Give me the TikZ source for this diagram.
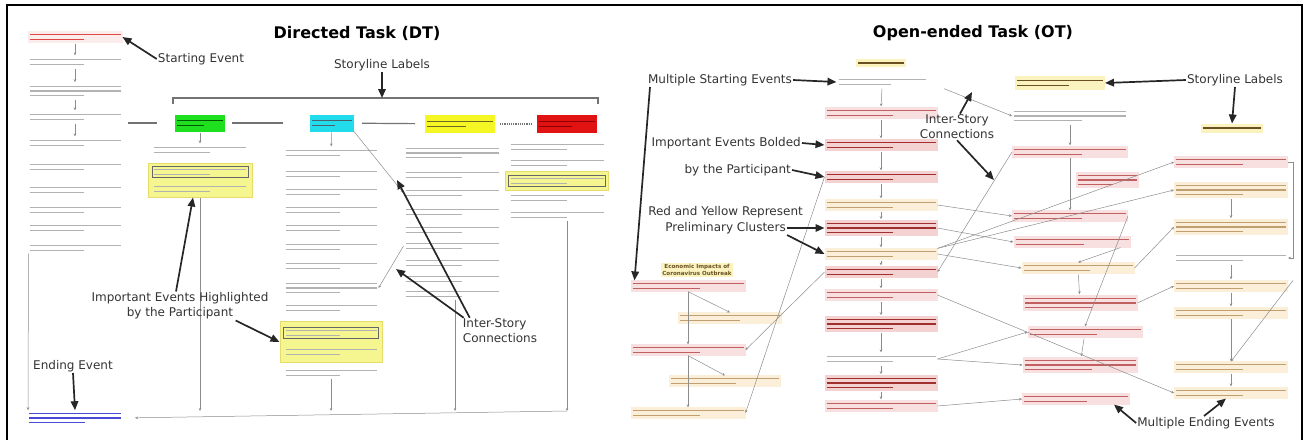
\documentclass[tikz,border=0pt]{standalone}
\usepackage{fontspec}
\setmainfont{DejaVu Sans}
\usetikzlibrary{arrows.meta,calc}

\definecolor{startink}{HTML}{E04848}
\definecolor{startfill}{HTML}{FCEDED}
\definecolor{endink}{HTML}{4A4AD8}
\definecolor{redink}{HTML}{C06060}
\definecolor{redfill}{HTML}{F9E0E0}
\definecolor{boldink}{HTML}{A03030}
\definecolor{boldfill}{HTML}{F5D2D2}
\definecolor{yelink}{HTML}{C0A070}
\definecolor{yelfill}{HTML}{FCEFDA}
\definecolor{labink}{HTML}{6A5020}
\definecolor{labfill}{HTML}{FAF3C0}
\definecolor{labgreen}{HTML}{1EE01E}
\definecolor{labcyan}{HTML}{22DCEC}
\definecolor{labyellow}{HTML}{F6F624}
\definecolor{labred}{HTML}{E01212}
\definecolor{hifill}{HTML}{F6F690}
\definecolor{hiedge}{HTML}{E6DC6A}

\tikzset{
  lbl/.style={font=\fontsize{12}{15}\selectfont, text=black!80, align=center, inner sep=1pt},
  ttl/.style={font=\fontsize{16}{19}\selectfont\bfseries},
  callout/.style={draw=black!85, line width=1.7pt, -{Triangle[length=9pt,width=7.5pt]}},
  conn/.style={draw=black!45, line width=0.5pt, -{Stealth[length=3pt,width=2.6pt]}},
  flow/.style={conn, shorten <=1pt, shorten >=1pt},
  labline/.style={draw=black!55, line width=1.2pt},
  evbox/.style={inner sep=0pt, outer sep=0pt},
  evline/.style={fill=none, line width=1.3pt},
  plainev/.style={color=black!30},
  startev/.style={color=startink, fill=startfill},
  endev/.style={color=endink},
  redev/.style={color=redink, fill=redfill},
  boldev/.style={color=boldink, fill=boldfill},
  yelev/.style={color=yelink, fill=yelfill},
  yellab/.style={color=labink, fill=labfill},
  greenlab/.style={color=green!35!black, fill=labgreen},
  cyanlab/.style={color=cyan!35!black, fill=labcyan},
  yellowlab/.style={color=olive!70!black, fill=labyellow},
  redlab/.style={color=red!55!black, fill=labred},
  hibox/.style={draw=hiedge, fill=hifill, line width=1pt, inner sep=0pt},
  outl/.style={draw=black!60, line width=0.5pt},
}

% one event: blurred text lines in a box
\newcommand{\event}[6][plainev]{%
  \node[evbox, minimum width=#5pt, minimum height={#6*4.4pt+2.4pt}, #1] (#2) at (#3,#4) {};
  \foreach \k in {1,...,#6}{%
    \pgfmathsetmacro{\evfr}{(\k==#6 && #6>1) ? 0.62 : 1}%
    \pgfmathsetmacro{\evdy}{(\k-(#6+1)/2)*4.4}%
    \draw[#1, evline] ($(#2.west)+(2,\evdy)$) -- ($(#2.west)!\evfr!(#2.east)+(-2,\evdy)$);%
  }%
}

\begin{document}
\begin{tikzpicture}[x=1pt,y=-1pt]
\useasboundingbox (0,0) rectangle (1306,445);
\draw[line width=2.6pt] (7,440) -- (7,5) -- (1302,5) -- (1302,440);

% ---------------- Directed Task ----------------
\node[ttl] (dttitle) at (357,33) {Directed Task (DT)};

\event[startev]{s1}{75}{37}{95}{2}
\foreach \i/\y/\n in {1/62/2,2/91/3,3/117/2,4/143/2,5/167/2,6/190/2,7/210/2,8/228/2,9/248/2}
  {\event{l\i}{75}{\y}{95}{\n}}
\event[endev]{e1}{75}{418}{96}{3}

\draw[flow] (s1) -- (l1);
\draw[flow] (l1) -- (l2);
\draw[flow] (l2) -- (l3);
\draw[flow] (l3) -- (l4);
\draw[conn] ([xshift=1pt]l9.south west) -- ([xshift=1pt]e1.north west);

\node[lbl] (startlbl) at (201,59) {Starting Event};
\draw[callout] (startlbl.west) -- (s1.east);
\node[lbl] (endlbl) at (73,366) {Ending Event};
\draw[callout] (endlbl.south) -- (e1.north);

% storyline labels
\coordinate (brl) at (173,98);
\coordinate (brr) at (598,98);
\coordinate (brm) at (382,98);
\draw[labline] ([yshift=-6pt]brl) -- (brl) -- (brr) -- ([yshift=-6pt]brr);
\node[lbl] (storylbl) at (382,65) {Storyline Labels};
\draw[callout] (storylbl) -- (brm);

\event[greenlab,minimum height=17pt]{gl}{200}{123}{50}{2}
\event[cyanlab,minimum height=17pt]{cl}{332}{123}{44}{2}
\event[yellowlab,minimum height=18pt]{yl}{460}{124}{70}{2}
\event[redlab,minimum height=18pt]{rl}{567}{124}{60}{2}
\draw[labline] ([xshift=-47pt]gl.west) -- ([xshift=-18pt]gl.west);
\draw[labline, shorten <=7pt, shorten >=27pt] (gl) -- (cl);
\draw[labline, shorten <=8pt, shorten >=10pt] (cl) -- (yl);
\draw[labline, densely dotted, shorten <=5pt, shorten >=4pt] (yl) -- (rl);

% green column
\node[hibox, minimum width=104pt, minimum height=34pt] (gh) at (200,180) {};
\event{g1}{200}{150}{96}{2}
\event{g2}{200}{172}{96}{2}
\event{g3}{200}{189}{96}{2}
\draw[outl] (g2.north west) rectangle (g2.south east);
\draw[flow] (gl) -- (g1);

% cyan column
\foreach \i/\y/\n in {1/153/2,2/174/2,3/192/2,4/210/2,5/228/2,6/247/2,7/266/2,8/288/3,9/308/2}
  {\event{c\i}{331}{\y}{95}{\n}}
\node[hibox, minimum width=102pt, minimum height=41pt] (ch) at (331,342) {};
\event{c10}{331}{333}{95}{2}
\event{c11}{331}{352}{95}{2}
\event{c12}{331}{373}{95}{2}
\draw[outl] (c10.north west) rectangle (c10.south east);
\draw[flow] (cl) -- (c1);

% yellow column
\foreach \i/\y/\n in {1/153/3,2/175/2,3/193/2,4/212/2,5/230/2,6/246/2,7/263/2,8/279/2,9/294/2}
  {\event{y\i}{452}{\y}{97}{\n}}

% red column
\event{r1}{557}{147}{97}{2}
\event{r2}{557}{163}{97}{2}
\node[hibox, minimum width=103pt, minimum height=19pt] (rh) at (557,181) {};
\event{r3}{557}{181}{97}{2}
\draw[outl] (r3.north west) rectangle (r3.south east);
\event{r4}{557}{198}{97}{2}
\event{r5}{557}{215}{97}{2}

% to the ending event
\coordinate (b1) at (200,411);
\coordinate (b2) at (331,411);
\coordinate (b3) at (455,411);
\coordinate (b4) at (567,411);
\draw[conn] (gh.south) -- (b1);
\draw[conn] (c12.south) -- (b2);
\draw[conn] (y9.south -| b3) -- (b3);
\draw[conn] (r5.south -| b4) -- (b4);
\draw[conn, shorten >=12pt] (b4) -- (e1.east);

% inter-story lines
\draw[conn] (cl.south east) -- (y3.west);
\draw[conn] (y6.west) -- (c8.east);

\node[lbl, align=left] (isdt) at (500,331) {Inter-Story\\Connections};
\coordinate (isA) at (396,269);
\coordinate (isB) at (397,180);
\draw[callout] ([xshift=2pt]isdt.north west) -- (isA);
\draw[callout] ([xshift=8pt]isdt.north west) -- (isB);

\node[lbl] (iehl) at (180,306) {Important Events Highlighted\\by the Participant};
\draw[callout] ([xshift=-4pt]iehl.north) -- ([xshift=-7pt]gh.south);
\draw[callout] ([xshift=-34pt]iehl.south east) -- (ch.west);

% ---------------- Open-ended Task ----------------
\node[ttl] (ottitle) at (973,33) {Open-ended Task (OT)};

\event[yellab,minimum height=8pt]{mainlbl}{881}{63}{50}{1}
\event{m1}{882}{82}{91}{2}
\event[redev]{m2}{881}{113}{113}{2}
\event[boldev]{m3}{881}{145}{113}{2}
\event[boldev]{m4}{881}{177}{113}{2}
\event[yelev]{m5}{881}{205}{113}{2}
\event[boldev]{m6}{881}{228}{113}{3}
\event[yelev]{m7}{881}{254}{113}{2}
\event[boldev]{m8}{881}{272}{113}{2}
\event[redev]{m9}{881}{295}{113}{2}
\event[boldev]{m10}{881}{324}{113}{3}
\event{m11}{881}{359}{113}{2}
\event[boldev]{m12}{881}{383}{113}{3}
\event[redev]{m13}{881}{406}{113}{2}
\foreach \i in {1,...,12}{%
  \pgfmathtruncatemacro{\j}{\i+1}
  \draw[flow] (m\i.south) -- (m\j.north);
}

% economic storyline
\node[fill=labfill, text=labink, font=\fontsize{5.6}{6.8}\selectfont\bfseries, align=center, inner sep=1pt] (econlbl) at (697,270) {Economic Impacts of\\Coronavirus Outbreak};
\event[redev]{ec1}{688}{286}{115}{2}
\event[yelev]{ec2}{730}{318}{104}{2}
\event[redev]{ec3}{688}{350}{115}{2}
\event[yelev]{ec4}{725}{381}{112}{2}
\event[yelev]{ec5}{688}{413}{115}{2}
\draw[conn] (ec1.south) -- (ec3.north);
\draw[conn] (ec3.south) -- (ec5.north);
\draw[conn] (ec1.south) -- (ec2.north);
\draw[conn] (ec3.south) -- (ec4.north);

% prevention storyline
\event[yellab,minimum height=14pt]{prevlbl}{1060}{83}{90}{2}
\event{p1}{1070}{116}{116}{3}
\event[redev]{p2}{1070}{152}{116}{2}
\event[redev]{p3}{1107}{180}{63}{3}
\event[redev]{p4}{1070}{216}{116}{2}
\event[redev]{p5}{1072}{242}{117}{2}
\event[yelev]{p6}{1078}{268}{113}{2}
\event[redev]{p7}{1080}{303}{115}{3}
\event[redev]{p8}{1085}{332}{115}{2}
\event[redev]{p9}{1080}{365}{115}{3}
\event[redev]{p10}{1076}{399}{108}{2}
\draw[flow] (p1) -- (p2);
\draw[conn] (p2.south) -- (p4.north);
\draw[conn] ([xshift=-10pt]p5.south east) -- (p6.north);
\draw[flow] (p6) -- (p7);
\draw[flow] (p8) -- (p9);
\draw[conn] (p4.east) -- (p8.north);

% infection storyline
\event[yellab,minimum height=9pt]{inflbl}{1232}{128}{62}{1}
\event[redev]{i1}{1231}{162}{114}{2}
\event[yelev]{i2}{1231}{190}{114}{3}
\event[yelev]{i3}{1231}{227}{114}{3}
\event{i4}{1231}{258}{114}{2}
\event[yelev]{i5}{1231}{286}{114}{2}
\event[yelev]{i6}{1231}{313}{114}{2}
\event[yelev]{i7}{1231}{367}{114}{2}
\event[yelev]{i8}{1231}{393}{114}{2}
\draw[flow] (i2) -- (i3);
\draw[flow] (i4) -- (i5);
\draw[flow] (i5) -- (i6);
\draw[conn] (i6.south) -- (i7.north);
\draw[flow] (i7) -- (i8);
\draw[conn] (i1.east) -- ++(5,0) |- (i4.east);
\draw[conn] ([xshift=5pt]i5.north east) -- (i7.north);

% inter-story lines
\draw[conn, shorten <=18pt] (m1.east) -- (p1.west);
\draw[conn] (p2.west) -- (m8.east);
\draw[conn] (m5.east) -- (p4.west);
\draw[conn] (m6.east) -- (p5.west);
\draw[conn] (m7.east) -- (p6.west);
\draw[conn] (m7.north east) -- (i1.west);
\draw[conn] (m7.north east) -- (i2.west);
\draw[conn] (p6.east) -- (i3.west);
\draw[conn] (p7.east) -- (i5.west);
\draw[conn] (m9.east) -- (i8.west);
\draw[conn] (m11.east) -- (p8.west);
\draw[conn] (m11.east) -- (p9.west);
\draw[conn] (m13.east) -- (p10.west);
\draw[conn] (m4.west) -- (ec5.east);
\draw[conn] (m8.west) -- (ec3.east);

% call-outs
\node[lbl] (msel) at (720,80) {Multiple Starting Events};
\draw[callout] (msel.east) -- (m1.west);
\draw[callout] ([xshift=-70pt]msel.south) -- ([xshift=4pt]ec1.north west);

\node[lbl, anchor=east] (ieb1) at (802,143) {Important Events Bolded};
\node[lbl, anchor=east] (ieb2) at (792,170) {by the Participant};
\draw[callout] (ieb1.east) -- (m3.west);
\draw[callout] (ieb2.east) -- (m4.west);

\node[lbl, anchor=east] (ry1) at (804,212) {Red and Yellow Represent};
\node[lbl, anchor=east] (ry2) at (787,228) {Preliminary Clusters};
\draw[callout] (ry2.east) -- (m6.west);
\draw[callout] (ry2.south east) -- (m7.west);

\node[lbl] (isot) at (957,127) {Inter-Story\\Connections};
\coordinate (isC) at (972,92);
\coordinate (isD) at (994,180);
\draw[callout] ([xshift=3pt]isot.north) -- (isC);
\draw[callout] ([xshift=0pt]isot.south) -- (isD);

\node[lbl] (slot) at (1235,80) {Storyline Labels};
\draw[callout] (slot.west) -- (prevlbl.east);
\draw[callout] (slot.south) -- (inflbl.north);

\node[lbl] (mee) at (1206,423) {Multiple Ending Events};
\draw[callout] (mee.west) -- ([xshift=-16pt]p10.south east);
\draw[callout] ([xshift=-2pt]mee.north) -- ([xshift=-5pt]i8.south);
\end{tikzpicture}
\end{document}
